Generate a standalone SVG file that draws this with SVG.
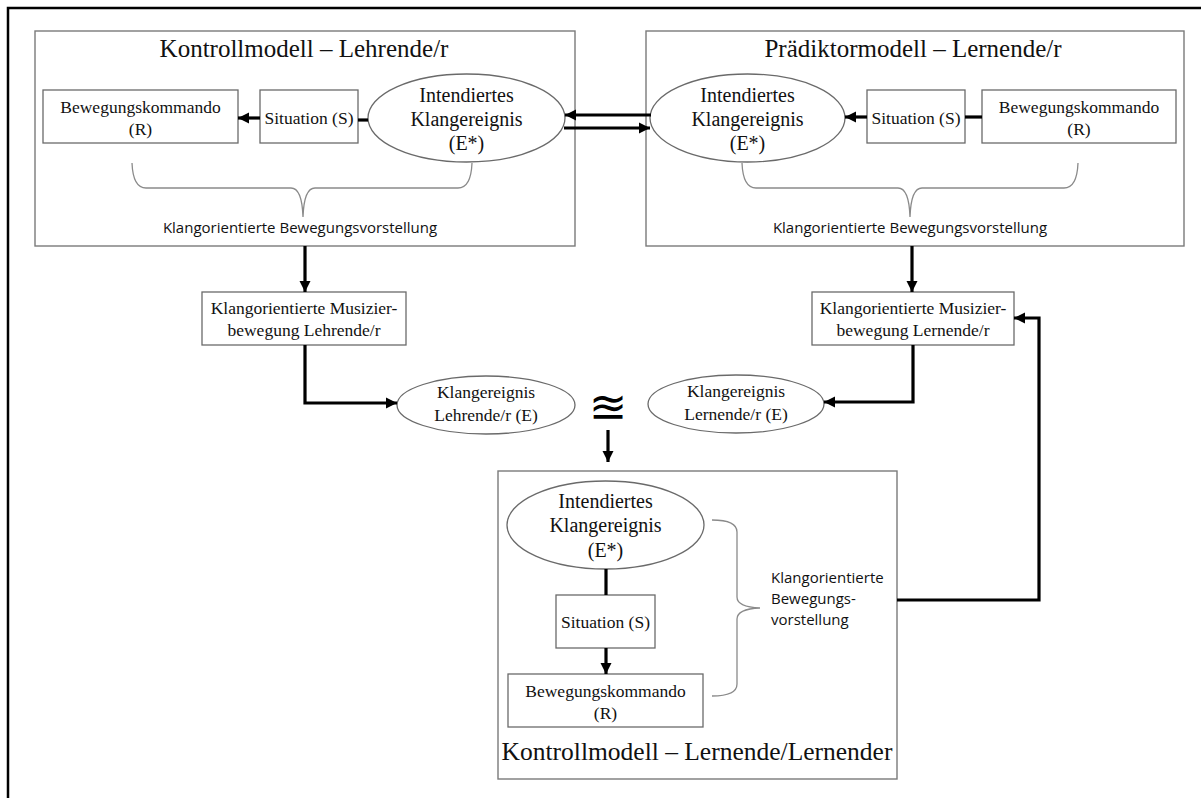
<svg xmlns="http://www.w3.org/2000/svg" width="1201" height="798" viewBox="0 0 1201 798">
  <defs>
    <marker id="head" markerUnits="userSpaceOnUse" markerWidth="12" markerHeight="12" refX="11" refY="6" orient="auto">
      <path d="M0,0.5 L11,6 L0,11.5 z" fill="#000"/>
    </marker>
    <style>
      .frame { fill: none; stroke: #000; stroke-width: 2.5; }
      .panel { fill: #fff; stroke: #7a7a7a; stroke-width: 1.4; }
      .box { fill: #fff; stroke: #6a6a6a; stroke-width: 1.3; }
      .oval { fill: #fff; stroke: #6a6a6a; stroke-width: 1.3; }
      .brace { fill: none; stroke: #8a8a8a; stroke-width: 1.3; }
      .conn { fill: none; stroke: #000; stroke-width: 3.2; }
      .arrow { fill: none; stroke: #000; stroke-width: 3.2; marker-end: url(#head); }
      .serif { font-family: "Liberation Serif", "Times New Roman", serif; fill: #111; text-anchor: middle; }
      .title { font-size: 25px; }
      .big { font-size: 20px; }
      .mid { font-size: 17.5px; }
      .sans { font-family: "Open Sans", "Noto Sans", sans-serif; font-size: 15px; fill: #111; }
      .sym { font-family: "DejaVu Sans", sans-serif; font-size: 46px; fill: #000; text-anchor: middle; }
    </style>
  </defs>

  <rect width="1201" height="798" fill="#fff"/>
  <!-- outer frame: top and left edges -->
  <path class="frame" d="M8 798 V8 H1201"/>

  <!-- control model, teacher -->
  <g id="kontroll-lehrende">
    <rect class="panel" x="35" y="31" width="540" height="215"/>
    <text class="serif title" x="304" y="57">Kontrollmodell – Lehrende/r</text>
    <path class="brace" d="M132 163 Q133 188 146 188 L291 188 Q302 188 303 217 Q304 188 315 188 L458 188 Q471 188 472 163"/>
    <text class="sans" x="300" y="233" text-anchor="middle">Klangorientierte Bewegungsvorstellung</text>
  </g>
  <g id="l-kommando">
    <rect class="box" x="43" y="90" width="195" height="53"/>
    <text class="serif mid" x="140.5" y="113">Bewegungskommando</text>
    <text class="serif mid" x="140.5" y="135">(R)</text>
  </g>
  <g id="l-situation">
    <rect class="box" x="260" y="90" width="98" height="53"/>
    <text class="serif mid" x="309" y="124">Situation (S)</text>
  </g>
  <g id="l-intendiert">
    <ellipse class="oval" cx="466.5" cy="118" rx="98.5" ry="44"/>
    <text class="serif big" x="466.5" y="102">Intendiertes</text>
    <text class="serif big" x="466.5" y="126">Klangereignis</text>
    <text class="serif big" x="466.5" y="150">(E*)</text>
  </g>

  <!-- predictor model, learner -->
  <g id="praediktor-lernende">
    <rect class="panel" x="646" y="31" width="538" height="215"/>
    <text class="serif title" x="913" y="57">Prädiktormodell – Lernende/r</text>
    <path class="brace" d="M742 163 Q743 188 756 188 L898 188 Q909 188 910 217 Q911 188 922 188 L1064 188 Q1077 188 1078 163"/>
    <text class="sans" x="910" y="233" text-anchor="middle">Klangorientierte Bewegungsvorstellung</text>
  </g>
  <g id="r-intendiert">
    <ellipse class="oval" cx="747.5" cy="118" rx="97.5" ry="44"/>
    <text class="serif big" x="747.5" y="102">Intendiertes</text>
    <text class="serif big" x="747.5" y="126">Klangereignis</text>
    <text class="serif big" x="747.5" y="150">(E*)</text>
  </g>
  <g id="r-situation">
    <rect class="box" x="867" y="90" width="98" height="53"/>
    <text class="serif mid" x="916" y="124">Situation (S)</text>
  </g>
  <g id="r-kommando">
    <rect class="box" x="982" y="90" width="194" height="53"/>
    <text class="serif mid" x="1079" y="113">Bewegungskommando</text>
    <text class="serif mid" x="1079" y="135">(R)</text>
  </g>

  <!-- performance and sound events -->
  <g id="musizier-lehrende">
    <rect class="box" x="202" y="292" width="204" height="53"/>
    <text class="serif mid" x="304" y="314">Klangorientierte Musizier-</text>
    <text class="serif mid" x="304" y="336">bewegung Lehrende/r</text>
  </g>
  <g id="musizier-lernende">
    <rect class="box" x="812" y="292" width="202" height="53"/>
    <text class="serif mid" x="913" y="314">Klangorientierte Musizier-</text>
    <text class="serif mid" x="913" y="336">bewegung Lernende/r</text>
  </g>
  <g id="klang-lehrende">
    <ellipse class="oval" cx="486" cy="405" rx="89" ry="29"/>
    <text class="serif mid" x="486" y="398">Klangereignis</text>
    <text class="serif mid" x="486" y="421">Lehrende/r (E)</text>
  </g>
  <g id="klang-lernende">
    <ellipse class="oval" cx="736" cy="404" rx="88" ry="29"/>
    <text class="serif mid" x="736" y="397">Klangereignis</text>
    <text class="serif mid" x="736" y="420">Lernende/r (E)</text>
  </g>
  <g id="vergleich">
    <text class="sym" x="608" y="423">≊</text>
  </g>

  <!-- control model, learner -->
  <g id="kontroll-lernende">
    <rect class="panel" x="498" y="471" width="399" height="308"/>
    <text class="serif" x="697" y="760" font-size="25.5">Kontrollmodell – Lernende/Lernender</text>
    <path class="brace" d="M712 520 Q737 520 737 532 L737 597 Q737 607 760 608 Q737 609 737 619 L737 684 Q737 696 712 696"/>
    <text class="sans" x="771" y="583" font-size="14.5">Klangorientierte</text>
    <text class="sans" x="771" y="604" font-size="14.5">Bewegungs-</text>
    <text class="sans" x="771" y="625" font-size="14.5">vorstellung</text>
  </g>
  <g id="b-intendiert">
    <ellipse class="oval" cx="605.5" cy="525" rx="98.5" ry="44"/>
    <text class="serif big" x="605.5" y="508">Intendiertes</text>
    <text class="serif big" x="605.5" y="532">Klangereignis</text>
    <text class="serif big" x="605.5" y="557">(E*)</text>
  </g>
  <g id="b-situation">
    <rect class="box" x="556" y="595" width="99" height="53"/>
    <text class="serif mid" x="605.5" y="628">Situation (S)</text>
  </g>
  <g id="b-kommando">
    <rect class="box" x="508" y="674" width="195" height="53"/>
    <text class="serif mid" x="605.5" y="697">Bewegungskommando</text>
    <text class="serif mid" x="605.5" y="719">(R)</text>
  </g>

  <!-- connectors -->
  <g id="connectors">
    <line class="conn" x1="358" y1="120" x2="368" y2="120"/>
    <line class="arrow" x1="260" y1="118" x2="238" y2="118"/>
    <line class="conn" x1="965" y1="117" x2="982" y2="117"/>
    <line class="arrow" x1="867" y1="117" x2="845" y2="117"/>
    <line class="arrow" x1="651" y1="115" x2="565" y2="115"/>
    <line class="arrow" x1="564" y1="128" x2="650" y2="128"/>
    <line class="arrow" x1="305" y1="246" x2="305" y2="292"/>
    <line class="arrow" x1="912" y1="246" x2="912" y2="292"/>
    <path class="arrow" d="M305 345 V403 H397"/>
    <path class="arrow" d="M913 345 V402 H824"/>
    <line class="arrow" x1="608" y1="430" x2="608" y2="462"/>
    <line class="conn" x1="606" y1="569" x2="606" y2="595"/>
    <line class="arrow" x1="606" y1="648" x2="606" y2="674"/>
    <path class="arrow" d="M897 600 H1039 V318 H1014"/>
  </g>
</svg>
